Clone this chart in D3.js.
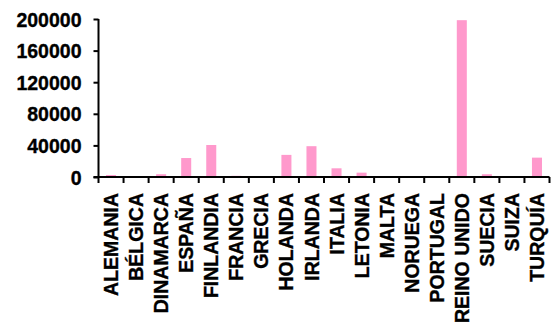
<!DOCTYPE html>
<html><head><meta charset="utf-8">
<script src="https://cdn.jsdelivr.net/npm/d3@7"></script>
<style>body{margin:0;background:#fff}svg{display:block}text{font-family:"Liberation Sans",Arial,sans-serif;font-weight:bold;fill:#000;stroke:#000;stroke-width:0.35px}</style>
</head><body><svg id="c" width="559" height="325"></svg>
<script>
const categories = ["ALEMANIA","BÉLGICA","DINAMARCA","ESPAÑA","FINLANDIA","FRANCIA","GRECIA","HOLANDA","IRLANDA","ITALIA","LETONIA","MALTA","NORUEGA","PORTUGAL","REINO UNIDO","SUECIA","SUIZA","TURQUÍA"];
const values = [2500,0,3500,24000,40500,1500,0,28000,39000,11000,5500,0,0,0,198500,3500,0,24500];
const yTicks = [0,40000,80000,120000,160000,200000];

const svg = d3.select("#c");
const mLeft = 98.5, mRight = 549.5, mTop = 19, mBottom = 177;
const slot = d3.scaleBand().domain(categories).range([mLeft, mRight]).padding(0);
const x = d3.scaleBand().domain(categories).range([mLeft, mRight]).paddingInner(0.6).paddingOuter(0.3);
const y = d3.scaleLinear().domain([0,200000]).range([mBottom, mTop]);

svg.append("g").selectAll("rect").data(categories).join("rect")
  .attr("x", d => x(d)).attr("width", x.bandwidth())
  .attr("y", (d,i) => y(values[i])).attr("height", (d,i) => y(0) - y(values[i]))
  .attr("fill", "#ff99cc");

// y axis
const ya = svg.append("g").attr("transform", `translate(${mLeft},0)`)
  .call(d3.axisLeft(y).tickValues(yTicks).tickSize(5).tickSizeOuter(0).tickPadding(12).tickFormat(d3.format("d")));
ya.selectAll("path, line").attr("stroke", "#000").attr("stroke-width", 2);
ya.select(".domain").attr("d", `M0,${mBottom+1}V${mTop}`);
ya.selectAll("text").style("font-size", "19.5px").attr("dy", "0.36em");

// x axis
const xa = svg.append("g").attr("transform", `translate(0,${mBottom})`)
  .call(d3.axisBottom(slot).tickSize(0).tickSizeOuter(0).tickPadding(0));
xa.select(".domain").attr("stroke", "#000").attr("stroke-width", 2).attr("d", `M${mLeft-5},0H${mRight}`);
xa.selectAll(".tick text")
  .style("font-size", "19.5px")
  .attr("text-anchor", "end")
  .attr("transform", "translate(0,16) rotate(-90)")
  .attr("x", 0).attr("y", 0).attr("dy", "0.36em");
const bounds = categories.map(c => slot(c)).concat([mRight]);
xa.append("g").selectAll("line").data(bounds).join("line")
  .attr("x1", d => d).attr("x2", d => d).attr("y1", 0).attr("y2", 6)
  .attr("stroke", "#000").attr("stroke-width", 2);
</script></body></html>
